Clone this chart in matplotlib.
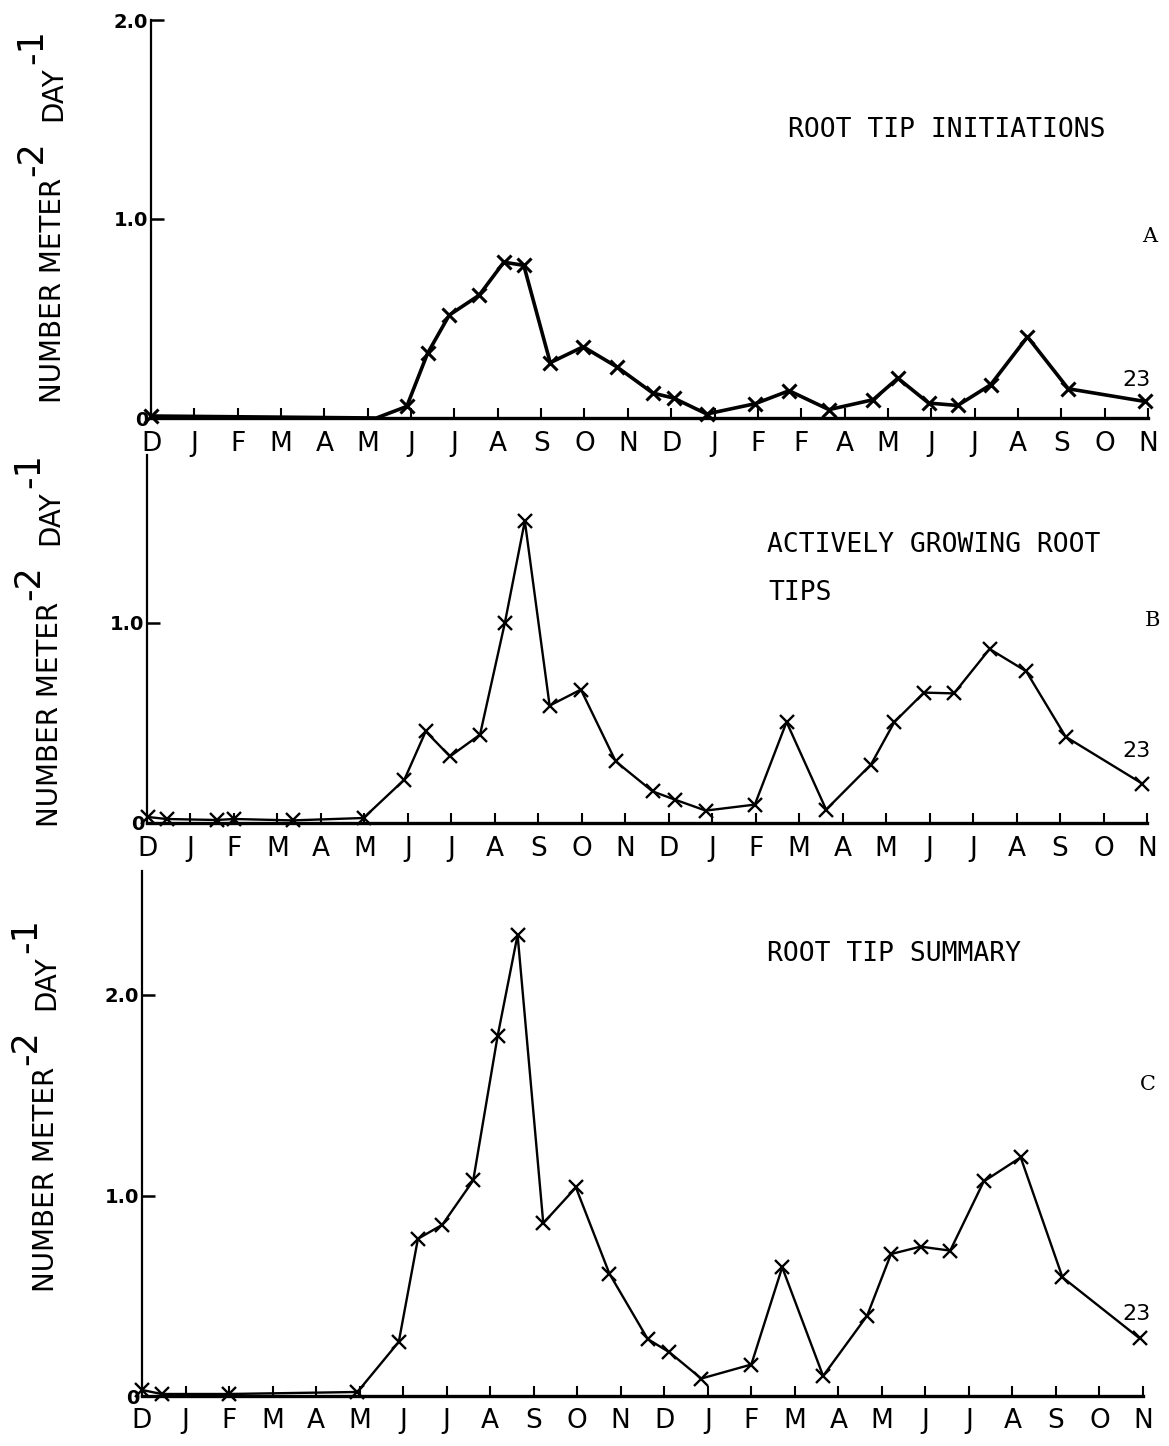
import matplotlib
matplotlib.use('Agg')
import matplotlib.pyplot as plt

W, H = 1169, 1446

# ---------------- data (month index: 0 = D of first year ... 23 = N of second year)
months_A = ['D', 'J', 'F', 'M', 'A', 'M', 'J', 'J', 'A', 'S', 'O', 'N',
            'D', 'J', 'F', 'F', 'A', 'M', 'J', 'J', 'A', 'S', 'O', 'N']
months_B = ['D', 'J', 'F', 'M', 'A', 'M', 'J', 'J', 'A', 'S', 'O', 'N',
            'D', 'J', 'F', 'M', 'A', 'M', 'J', 'J', 'A', 'S', 'O', 'N']
months_C = months_B

# A: root tip initiations
xa = [0.0, 5.2, 5.90, 6.38, 6.88, 7.57, 8.14, 8.60, 9.21, 9.97, 10.74, 11.58,
      12.06, 12.82, 13.94, 14.72, 15.64, 16.66, 17.23, 17.94, 18.61, 19.37,
      20.22, 21.16, 22.93]
ya = [0.01, 0.0, 0.058, 0.325, 0.517, 0.617, 0.783, 0.767, 0.278, 0.358, 0.258,
      0.125, 0.10, 0.02, 0.072, 0.137, 0.042, 0.092, 0.20, 0.075, 0.063, 0.167,
      0.408, 0.147, 0.083]
hidden_A = [1]   # point on the flat stretch drawn without a marker

# B: actively growing root tips
xb = [0.02, 0.45, 1.6, 2.0, 3.35, 4.98, 5.92, 6.41, 6.97, 7.66, 8.23, 8.69,
      9.26, 9.98, 10.78, 11.63, 12.14, 12.85, 13.98, 14.71, 15.62, 16.65,
      17.19, 17.87, 18.56, 19.38, 20.22, 21.13, 22.89]
yb = [0.03, 0.02, 0.015, 0.02, 0.013, 0.025, 0.217, 0.458, 0.333, 0.442, 1.0,
      1.51, 0.587, 0.667, 0.308, 0.158, 0.117, 0.062, 0.092, 0.505, 0.067,
      0.292, 0.505, 0.652, 0.648, 0.870, 0.759, 0.431, 0.197]

# C: root tip summary
xc = [0.0, 0.45, 2.0, 4.95, 5.9, 6.34, 6.9, 7.61, 8.17, 8.63, 9.22, 9.97,
      10.74, 11.62, 12.12, 12.85, 14.0, 14.71, 15.65, 16.66, 17.21, 17.89,
      18.57, 19.34, 20.19, 21.15, 22.92]
yc = [0.03, 0.01, 0.01, 0.02, 0.27, 0.784, 0.854, 1.075, 1.794, 2.3, 0.862,
      1.04, 0.61, 0.284, 0.218, 0.087, 0.157, 0.642, 0.1, 0.4, 0.708, 0.745,
      0.725, 1.07, 1.19, 0.592, 0.288]

yticks_A = [0, 1.0, 2.0]
yticks_B = [0, 1.0]
yticks_C = [0, 1.0, 2.0]
ytick_labels_A = ['0', '1.0', '2.0']
ytick_labels_B = ['0', '1.0']
ytick_labels_C = ['0', '1.0', '2.0']

titles = [['ROOT TIP INITIATIONS'], ['ACTIVELY GROWING ROOT', 'TIPS'], ['ROOT TIP SUMMARY']]
panel_letters = ['A', 'B', 'C']
end_label = '23'
ylabel_parts = [('NUMBER METER', False), ('-2', True), ('DAY', False), ('-1', True)]

# ---------------- figure
fig = plt.figure(figsize=(W / 100, H / 100), dpi=100)
renderer = fig.canvas.get_renderer()


def T(xp, yp, s, **kw):
    return fig.text(xp / W, 1 - yp / H, s, **kw)


def make_axes(left, right, zero_px, px_per_unit, top_px, xs, ys, months, yt, ytl,
              lw, mew, hidden=()):
    ax = fig.add_axes([left / W, 1 - zero_px / H, (right - left) / W, (zero_px - top_px) / H])
    ax.set_xlim(0, 23)
    ax.set_ylim(0, (zero_px - top_px) / px_per_unit)
    ax.patch.set_alpha(0)
    every = [i for i in range(len(xs)) if i not in hidden]
    ax.plot(xs, ys, color='black', lw=lw, marker='x', markersize=10,
            markeredgewidth=mew, markevery=every, clip_on=False, zorder=3)
    for s in ['top', 'right']:
        ax.spines[s].set_visible(False)
    ax.spines['left'].set_linewidth(1.6)
    ax.spines['bottom'].set_linewidth(2.4)
    ax.set_xticks(range(24))
    ax.set_xticklabels(months, fontsize=19, family='DejaVu Sans')
    ax.tick_params(axis='x', direction='in', length=7, width=1.5, pad=9)
    ax.set_yticks(yt)
    ax.set_yticklabels(ytl, fontsize=14, fontweight='bold', family='DejaVu Sans')
    ax.tick_params(axis='y', direction='in', length=9, width=1.8, pad=2)
    return ax


axA = make_axes(151, 1148, 418, 199, 20, xa, ya, months_A, yticks_A, ytick_labels_A,
                2.6, 2.2, hidden_A)
axB = make_axes(147, 1147, 823, 200, 455, xb, yb, months_B, yticks_B, ytick_labels_B,
                1.7, 1.7)
axC = make_axes(142, 1143, 1396, 200.5, 871, xc, yc, months_C, yticks_C, ytick_labels_C,
                1.7, 1.7)


# y labels: rotated pieces chained upward, with large raised superscripts
def ylabel(x_main, x_sup, y_bottom):
    y = H - y_bottom            # display pixels from the bottom
    gaps = [2, 20, 2, 0]
    for (s, sup), gap in zip(ylabel_parts, gaps):
        t = fig.text((x_sup if sup else x_main) / W, y / H, s, rotation=90,
                     ha='center', va='bottom', fontsize=25 if sup else 20)
        bb = t.get_window_extent(renderer)
        y = bb.y1 + gap


ylabel(53, 32, 403)
ylabel(50, 29, 827)
ylabel(46, 26, 1292)

# titles
mono = 'DejaVu Sans Mono'
T(788, 130, titles[0][0], fontsize=19, va='center', ha='left', family=mono)
T(767, 545, titles[1][0], fontsize=19, va='center', ha='left', family=mono)
T(768, 593, titles[1][1], fontsize=19, va='center', ha='left', family=mono)
T(767, 954, titles[2][0], fontsize=19, va='center', ha='left', family=mono)

# panel letters
T(1150, 236, panel_letters[0], fontsize=15, family='DejaVu Serif', ha='center', va='center')
T(1152, 620, panel_letters[1], fontsize=15, family='DejaVu Serif', ha='center', va='center')
T(1148, 1085, panel_letters[2], fontsize=15, family='DejaVu Serif', ha='center', va='center')

# "23" end labels
T(1137, 380, end_label, fontsize=16, ha='center', va='center')
T(1137, 751, end_label, fontsize=16, ha='center', va='center')
T(1136, 1314, end_label, fontsize=16, ha='center', va='center')

fig.savefig('out.png', dpi=100)
